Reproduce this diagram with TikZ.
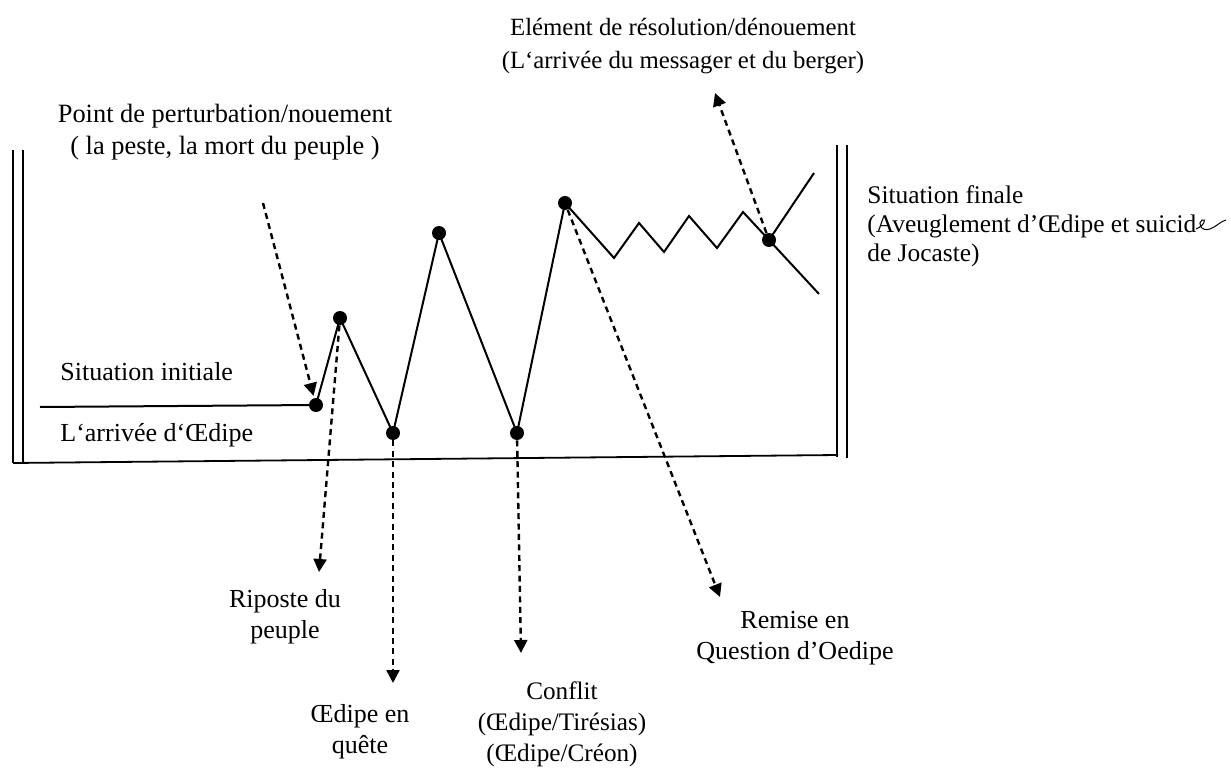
\documentclass[tikz,border=0pt]{standalone}
\usepackage{fontspec}
\setmainfont{Liberation Serif}
\usetikzlibrary{arrows.meta}
\begin{document}
\begin{tikzpicture}[x=0.5pt,y=-0.5pt,
  dot/.style={circle,fill=black,inner sep=0pt,minimum size=7pt},
  plotline/.style={line width=1pt,black},
  frameline/.style={line width=0.9pt,black},
  dasharrow/.style={line width=1.2pt,dash pattern=on 3pt off 2.2pt,-{Triangle[length=6.5pt,width=6.5pt]}},
  lbl/.style={font=\fontsize{13}{15.5}\selectfont,inner sep=0pt},
  squiggle/.style={line width=0.5pt,black}]
\useasboundingbox (0,0) rectangle (1231,770);

% frame
\coordinate (LT1) at (13,150); \coordinate (LB1) at (13,463);
\coordinate (LT2) at (23,150); \coordinate (LB2) at (23,462);
\coordinate (RT1) at (837,145); \coordinate (RB1) at (837,457);
\coordinate (RT2) at (847,145); \coordinate (RB2) at (847,458);
\coordinate (BL) at (13,463); \coordinate (BR) at (838,455);
\draw[frameline] (LT1) -- (LB1);
\draw[frameline] (LT2) -- (LB2);
\draw[frameline] (RT1) -- (RB1);
\draw[frameline] (RT2) -- (RB2);
\draw[frameline] (BL) -- (BR);

% dots
\node[dot] (A) at (316,405) {};
\node[dot] (B) at (340,318) {};
\node[dot] (C) at (393,433) {};
\node[dot] (D) at (439,233) {};
\node[dot] (E) at (517,433) {};
\node[dot] (F) at (565,203) {};
\node[dot] (G) at (769,240) {};

% zigzag vertices
\coordinate (S0) at (40,407);
\coordinate (z1) at (614,258);
\coordinate (z2) at (639,223);
\coordinate (z3) at (664,252);
\coordinate (z4) at (689,216);
\coordinate (z5) at (717,248);
\coordinate (z6) at (743,212);
\coordinate (GU) at (814,173);
\coordinate (GD) at (819,294);

\draw[plotline] (S0) -- (A.center) -- (B.center) -- (C.center) -- (D.center) -- (E.center) -- (F.center)
  -- (z1) -- (z2) -- (z3) -- (z4) -- (z5) -- (z6) -- (G.center) -- (GD);
\draw[plotline] (G.center) -- (GU);

% dashed arrows
\coordinate (t1) at (263,203);
\coordinate (t2) at (319,572);
\coordinate (t3) at (393,683);
\coordinate (t4) at (521,653);
\coordinate (t5) at (720,597);
\coordinate (t6) at (715,93);
\draw[dasharrow,shorten >=1pt] (t1) -- (A);
\draw[dasharrow] (B) -- (t2);
\draw[dasharrow] (C) -- (t3);
\draw[dasharrow] (E) -- (t4);
\draw[dasharrow] (F) -- (t5);
\draw[dasharrow] (G) -- (t6);

% labels
\node[lbl,align=center,font=\fontsize{12.4}{16.5}\selectfont] (top) at (683,46)
  {Elément de résolution/dénouement\\(L‘arrivée du messager et du berger)};
\node[lbl,align=center,font=\fontsize{13.2}{16}\selectfont] (pert) at (225,132)
  {Point de perturbation/nouement\\( la peste, la mort du peuple )};
\node[lbl,anchor=west] (sinit) at (60,372) {Situation initiale};
\node[lbl,anchor=west] (arr) at (60,435) {L‘arrivée d‘Œdipe};
\node[lbl,align=left,anchor=west,font=\fontsize{12.7}{14.5}\selectfont] (sfin) at (867,226)
  {Situation finale\\(Aveuglement d’Œdipe et suicid\\de Jocaste)};
\node[lbl,align=center] (ripo) at (285,617) {Riposte du\\peuple};
\node[lbl,align=center] (quete) at (360,732) {Œdipe en\\quête};
\node[lbl,align=center,font=\fontsize{12.6}{15.5}\selectfont] (conf) at (562,724) {Conflit\\(Œdipe/Tirésias)\\(Œdipe/Créon)};
\node[lbl,align=center] (remi) at (795,638) {Remise en\\Question d’Oedipe};

% handwritten e
\coordinate (q0) at (1196,229);
\coordinate (q1) at (1202,220);
\coordinate (q2) at (1210,229);
\coordinate (q3) at (1226,220);
\draw[squiggle] (q0) .. controls (1204,226) and (1207,218) .. (q1)
  .. controls (1197,223) and (1201,232) .. (q2)
  .. controls (1216,227) and (1221,221) .. (q3);
\end{tikzpicture}
\end{document}
